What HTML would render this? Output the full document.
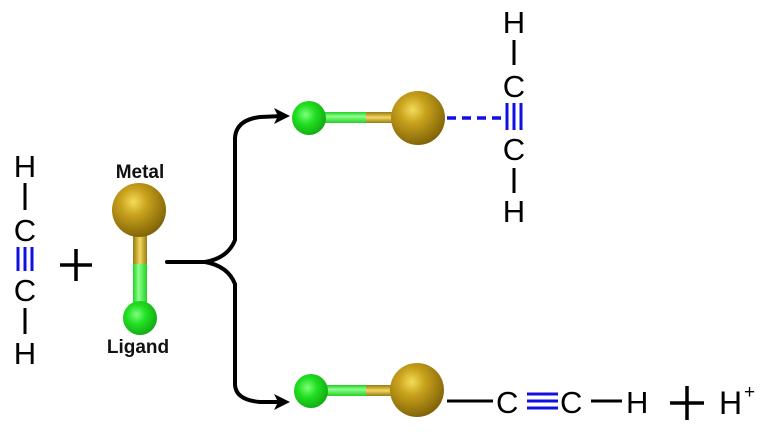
<!DOCTYPE html>
<html><head><meta charset="utf-8"><style>
html,body{margin:0;padding:0;background:#fff;}
svg{display:block}
text{font-family:"Liberation Sans",sans-serif;}
</style></head><body>
<svg width="772" height="436" viewBox="0 0 772 436" xmlns="http://www.w3.org/2000/svg">
<defs>
<radialGradient id="gold" cx="0.4" cy="0.35" r="0.7">
<stop offset="0" stop-color="#f4dc5a"/><stop offset="0.35" stop-color="#c9a21c"/><stop offset="1" stop-color="#7a5e06"/>
</radialGradient>
<radialGradient id="green" cx="0.4" cy="0.4" r="0.7">
<stop offset="0" stop-color="#7dff7d"/><stop offset="0.4" stop-color="#22e022"/><stop offset="1" stop-color="#10a010"/>
</radialGradient>
<linearGradient id="gbarV" x1="0" x2="1"><stop offset="0" stop-color="#22d022"/><stop offset="0.4" stop-color="#8dff8d"/><stop offset="1" stop-color="#22d022"/></linearGradient>
<linearGradient id="gbarH" x1="0" y1="0" x2="0" y2="1"><stop offset="0" stop-color="#22d022"/><stop offset="0.4" stop-color="#8dff8d"/><stop offset="1" stop-color="#22d022"/></linearGradient>
<linearGradient id="ybarV" x1="0" x2="1"><stop offset="0" stop-color="#9a7a10"/><stop offset="0.5" stop-color="#f2d860"/><stop offset="1" stop-color="#9a7a10"/></linearGradient>
<linearGradient id="ybarH" x1="0" y1="0" x2="0" y2="1"><stop offset="0" stop-color="#9a7a10"/><stop offset="0.5" stop-color="#f2d860"/><stop offset="1" stop-color="#9a7a10"/></linearGradient>
</defs>

<!-- left acetylene -->
<g font-size="31" text-anchor="middle" fill="#000">
<text x="25" y="177">H</text>
<text x="25" y="241">C</text>
<text x="25" y="301">C</text>
<text x="25" y="364">H</text>
</g>
<line x1="25" y1="183" x2="25" y2="210" stroke="#000" stroke-width="3"/>
<line x1="25" y1="308" x2="25" y2="334" stroke="#000" stroke-width="3"/>
<g stroke="#1010e0" stroke-width="3">
<line x1="18" y1="247" x2="18" y2="271"/><line x1="25" y1="247" x2="25" y2="271"/><line x1="32" y1="247" x2="32" y2="271"/>
</g>
<!-- plus -->
<g stroke="#000" stroke-width="3.5"><line x1="60" y1="265" x2="92" y2="265"/><line x1="76" y1="249" x2="76" y2="281"/></g>

<!-- metal-ligand vertical -->
<text x="140" y="178" font-size="19" text-anchor="middle" font-weight="bold" fill="#111">Metal</text>
<rect x="133" y="232" width="14" height="34" fill="url(#ybarV)"/>
<rect x="133" y="264" width="14" height="52" fill="url(#gbarV)"/>
<circle cx="140" cy="318" r="17" fill="url(#green)"/>
<circle cx="139" cy="210" r="27" fill="url(#gold)"/>
<text x="138" y="353" font-size="19" text-anchor="middle" font-weight="bold" fill="#111">Ligand</text>

<!-- brace arrows -->
<g fill="none" stroke="#000" stroke-width="4" stroke-linecap="round">
<path d="M167 262 L205 262 Q228 258 235 240 L235 138 Q236 120 260 117 L283 116"/>
<path d="M205 262 Q228 266 235 284 L235 385 Q236 400 260 402 L283 402"/>
</g>
<path d="M290 116 L274 108 L278 116 L274 124 Z" fill="#000"/>
<path d="M290 402 L274 394 L278 402 L274 410 Z" fill="#000"/>

<!-- top product -->
<rect x="309" y="112" width="60" height="11" fill="url(#gbarH)"/>
<rect x="366" y="112" width="30" height="11" fill="url(#ybarH)"/>
<circle cx="309" cy="118" r="17" fill="url(#green)"/>
<circle cx="418" cy="118" r="27" fill="url(#gold)"/>
<line x1="447" y1="118" x2="505" y2="118" stroke="#1010e0" stroke-width="3.5" stroke-dasharray="9,6"/>
<g font-size="31" text-anchor="middle" fill="#000">
<text x="514" y="33">H</text>
<text x="514" y="97">C</text>
<text x="514" y="160">C</text>
<text x="514" y="222">H</text>
</g>
<line x1="514" y1="40" x2="514" y2="65" stroke="#000" stroke-width="3"/>
<line x1="514" y1="168" x2="514" y2="193" stroke="#000" stroke-width="3"/>
<g stroke="#1010e0" stroke-width="3">
<line x1="507" y1="103" x2="507" y2="130"/><line x1="514" y1="103" x2="514" y2="130"/><line x1="521" y1="103" x2="521" y2="130"/>
</g>

<!-- bottom product -->
<rect x="309" y="385" width="60" height="11" fill="url(#gbarH)"/>
<rect x="366" y="385" width="30" height="11" fill="url(#ybarH)"/>
<circle cx="311" cy="391" r="17" fill="url(#green)"/>
<circle cx="417" cy="390" r="27" fill="url(#gold)"/>
<line x1="447" y1="401" x2="493" y2="401" stroke="#000" stroke-width="3"/>
<g font-size="31" fill="#000">
<text x="496" y="413">C</text>
<text x="560" y="413">C</text>
<text x="626" y="413">H</text>
</g>
<g stroke="#1010e0" stroke-width="3">
<line x1="527" y1="394" x2="558" y2="394"/><line x1="527" y1="401" x2="558" y2="401"/><line x1="527" y1="408" x2="558" y2="408"/>
</g>
<line x1="591" y1="401" x2="622" y2="401" stroke="#000" stroke-width="3"/>
<g stroke="#000" stroke-width="3.5"><line x1="670" y1="403" x2="704" y2="403"/><line x1="687" y1="386" x2="687" y2="420"/></g>
<text x="719" y="414" font-size="32" fill="#000">H</text>
<text x="744" y="398" font-size="19" fill="#000">+</text>
</svg>
</body></html>
